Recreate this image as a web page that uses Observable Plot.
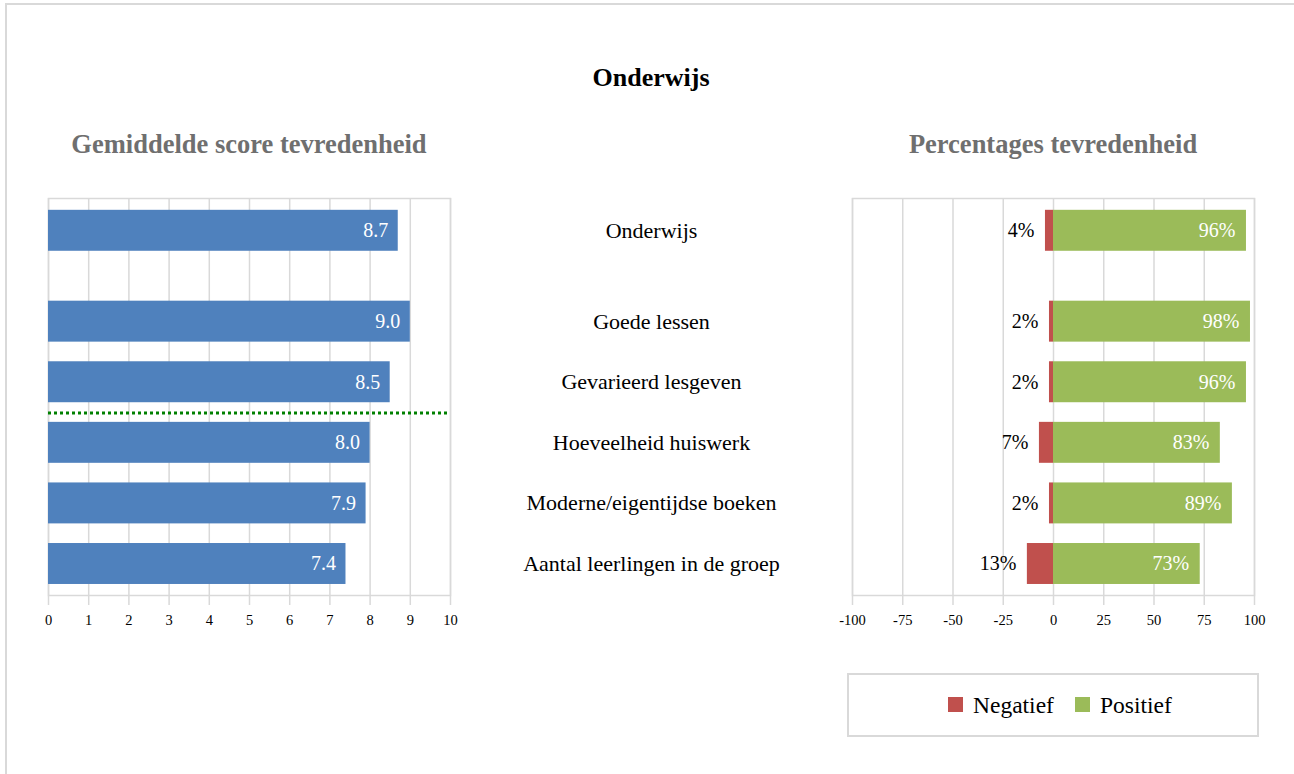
<!DOCTYPE html>
<html>
<head>
<meta charset="utf-8">
<script src="https://cdn.jsdelivr.net/npm/d3@7"></script>
<script src="https://cdn.jsdelivr.net/npm/@observablehq/plot@0.6"></script>
<style>
  html, body { margin: 0; padding: 0; background: #fff; }
  body { width: 1294px; height: 774px; position: relative; overflow: hidden; font-family: "Liberation Serif", "DejaVu Serif", serif; }
  #border { position: absolute; left: 5px; top: 3px; width: 1320px; height: 820px; border: 2px solid #d9d9d9; box-sizing: border-box; }
  .abs { position: absolute; }
  #title { left: 0; width: 1302px; top: 63px; text-align: center; font-weight: bold; font-size: 26px; line-height: 30px; color: #000; }
  .sub { font-weight: bold; font-size: 26.5px; line-height: 30px; color: #6f6f6f; text-align: center; top: 129px; }
  #legend { left: 847px; top: 673px; width: 412px; height: 64px; border: 2px solid #d9d9d9; box-sizing: border-box; }
  .sw { position: absolute; width: 15px; height: 15px; top: 22px; }
  .lt { position: absolute; top: 15px; font-size: 23.5px; line-height: 30px; color: #000; }
</style>
</head>
<body>
<div id="border"></div>
<div id="title" class="abs">Onderwijs</div>
<div class="abs sub" style="left:48px;width:402px;">Gemiddelde score tevredenheid</div>
<div class="abs sub" style="left:852px;width:402px;">Percentages tevredenheid</div>
<div id="left" class="abs" style="left:0;top:180px;"></div>
<div id="mid" class="abs" style="left:470px;top:180px;"></div>
<div id="right" class="abs" style="left:830px;top:180px;"></div>
<div id="legend" class="abs"></div>
<script>
// ---- data ----
const categories = ["Onderwijs", "Goede lessen", "Gevarieerd lesgeven", "Hoeveelheid huiswerk", "Moderne/eigentijdse boeken", "Aantal leerlingen in de groep"];
const scores = [8.7, 9.0, 8.5, 8.0, 7.9, 7.4];
const negatief = [4, 2, 2, 7, 2, 13];
const positief = [96, 98, 96, 83, 89, 73];
const scoreTicks = [0, 1, 2, 3, 4, 5, 6, 7, 8, 9, 10];
const pctTicks = [-100, -75, -50, -25, 0, 25, 50, 75, 100];
const seriesNames = ["Negatief", "Positief"];

const colors = { blue: "#4F81BD", red: "#C0504D", green: "#9BBB59", grid: "#d9d9d9" };

// row layout: the overall row sits half a row apart from the sub-items
const rows = categories.map((name, i) => ({
  name,
  score: scores[i],
  neg: negatief[i],
  pos: positief[i],
  r: i === 0 ? 0 : i + 0.5
}));
const half = 0.338;
const yScale = { type: "linear", domain: [-0.533, 6.02], reverse: true, axis: null };
const font = "'Liberation Serif', 'DejaVu Serif', serif";

// ---- left chart ----
const left = Plot.plot({
  width: 470, height: 460,
  marginLeft: 48, marginRight: 20, marginTop: 18, marginBottom: 45,
  style: { fontFamily: font, background: "transparent", overflow: "visible" },
  x: { domain: [0, 10], axis: null },
  y: yScale,
  marks: [
    Plot.gridX(scoreTicks, { stroke: colors.grid, strokeWidth: 1.5, strokeOpacity: 1 }),
    Plot.frame({ stroke: colors.grid, strokeWidth: 1.5 }),
    Plot.axisX(scoreTicks, { anchor: "bottom", label: null, tickSize: 10, tickPadding: 9, stroke: colors.grid, strokeWidth: 1.5, fill: "#000", fontSize: 14.5, tickFormat: d => String(d) }),
    Plot.rectX(rows, { x1: 0, x2: "score", y1: d => d.r - half, y2: d => d.r + half, fill: colors.blue }),
    Plot.text(rows, { x: "score", y: "r", text: d => d.score.toFixed(1), textAnchor: "end", dx: -10, fill: "white", fontSize: 20 }),
    Plot.ruleY([(rows[2].r + rows[3].r) / 2], { stroke: "#008000", strokeWidth: 3, strokeDasharray: "3,3", dy: 0.5 })
  ]
});
document.getElementById("left").appendChild(left);

// ---- middle labels ----
const mid = Plot.plot({
  width: 362, height: 460,
  marginLeft: 0, marginRight: 0, marginTop: 18, marginBottom: 45,
  style: { fontFamily: font, background: "transparent", overflow: "visible" },
  x: { axis: null },
  y: yScale,
  marks: [
    Plot.text(rows, { y: "r", text: "name", frameAnchor: "middle", fill: "#000", fontSize: 22 })
  ]
});
document.getElementById("mid").appendChild(mid);

// ---- right chart ----
const right = Plot.plot({
  width: 440, height: 460,
  marginLeft: 22, marginRight: 16, marginTop: 18, marginBottom: 45,
  style: { fontFamily: font, background: "transparent", overflow: "visible" },
  x: { domain: [-100, 100], axis: null },
  y: yScale,
  marks: [
    Plot.gridX(pctTicks, { stroke: colors.grid, strokeWidth: 1.5, strokeOpacity: 1 }),
    Plot.frame({ stroke: colors.grid, strokeWidth: 1.5 }),
    Plot.axisX(pctTicks, { anchor: "bottom", label: null, tickSize: 10, tickPadding: 9, stroke: colors.grid, strokeWidth: 1.5, fill: "#000", fontSize: 14.5, tickFormat: d => String(d) }),
    Plot.rectX(rows, { x1: 0, x2: d => -d.neg, y1: d => d.r - half, y2: d => d.r + half, fill: colors.red }),
    Plot.rectX(rows, { x1: 0, x2: "pos", y1: d => d.r - half, y2: d => d.r + half, fill: colors.green }),
    Plot.text(rows, { x: d => -d.neg, y: "r", text: d => d.neg + "%", textAnchor: "end", dx: -11, fill: "#000", fontSize: 20 }),
    Plot.text(rows, { x: "pos", y: "r", text: d => d.pos + "%", textAnchor: "end", dx: -11, fill: "white", fontSize: 20 })
  ]
});
document.getElementById("right").appendChild(right);

// ---- legend ----
const legend = document.getElementById("legend");
const legendColors = [colors.red, colors.green];
const swX = [99, 226];
seriesNames.forEach((n, i) => {
  const sw = document.createElement("div");
  sw.className = "sw";
  sw.style.left = swX[i] + "px";
  sw.style.background = legendColors[i];
  legend.appendChild(sw);
  const t = document.createElement("div");
  t.className = "lt";
  t.style.left = (swX[i] + 25) + "px";
  t.textContent = n;
  legend.appendChild(t);
});
</script>
</body>
</html>
